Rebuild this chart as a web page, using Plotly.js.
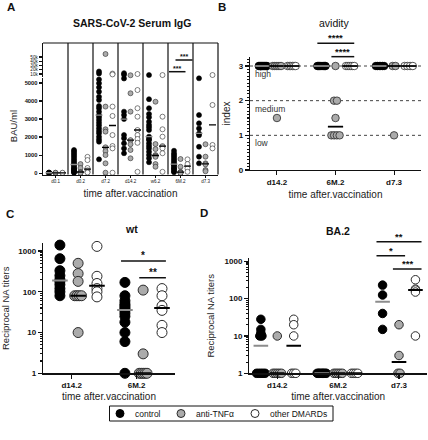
<!DOCTYPE html>
<html><head><meta charset="utf-8">
<script src="https://cdn.plot.ly/plotly-3.0.1.min.js"></script>
<style>html,body{margin:0;padding:0;background:#fff}#chart{width:428px;height:440px}</style>
</head><body><div id="chart"></div>
<script>
// ================= DATA =================
const groupNames = ['control', 'anti-TNFα', 'other DMARDs'];

// Panel A: SARS-CoV-2 serum IgG (BAU/ml)
const A_times = ['d0.1', 'd0.2', 'd7.2', 'd14.2', 'w6.2', '6M.2', 'd7.3'];
const A_control = [
  [10, 20, 30, 15],
  [1280, 1200, 1100, 1000, 900, 800, 700, 600, 500, 450, 400, 300, 250, 200, 150, 100, 50, 20],
  [16000, 11000, 5200, 4990, 4760, 4520, 4240, 4060, 3720, 3600, 3410, 3220, 3100, 2950, 2800, 2650, 2490, 2340, 2210, 2020, 1870, 1740, 760],
  [12000, 8000, 5250, 3410, 3220, 3000, 2110, 1930, 1650, 1370, 1100],
  [7500, 4100, 3600, 3280, 3100, 2850, 2670, 2540, 2390, 2020, 1890, 1830, 1650, 1500, 1370, 1180, 1000, 820, 600],
  [1240, 1100, 1000, 900, 800, 700, 600, 500, 450, 400, 300, 250, 200, 100, 50],
  [5260, 3220, 2760, 2480, 2200, 2100, 1460, 910, 540]
];
const A_antiTNF = [
  [10, 20],
  [500, 280, 60, 20, 10],
  [57000, 3690, 2430, 2300, 1430, 1220, 1000, 540, 20],
  [7000, 4430, 3410, 1830, 1600, 1280, 820],
  [3960, 1610, 1330, 1000, 950, 900, 500, 350],
  [780, 350, 70, 40, 10, 0],
  [1600, 910, 540, 480, 170, 100]
];
const A_other = [
  [10, 15],
  [900, 720, 280, 150, 60, 30],
  [11000, 9000, 3690, 3170, 2110, 1500, 1370, 20],
  [10000, 4610, 3600, 3130, 2390, 2110, 1890, 1680, 70],
  [7500, 3130, 2430, 2020, 1500, 1450, 1370, 1100, 70],
  [760, 500, 260, 70],
  [7600, 3780, 1560, 1370]
];
const A_lowTicks = [0, 1000, 2000, 3000, 4000, 5000];
const A_highTicks = [10000, 20000, 30000, 40000, 50000];
const A_sig = [{t: 5, a: 0, b: 1, label: '***'}, {t: 5, a: 1, b: 2, label: '***'}];

// Panel B: avidity index
const B_times = ['d14.2', '6M.2', 'd7.3'];
const B_control = [[3, 3, 3, 3, 3, 3, 3, 3, 3, 3], [3, 3, 3, 3, 3, 3, 3, 3], [3, 3, 3, 3, 3, 3]];
const B_antiTNF = [[3, 3, 3, 3, 3, 1.5], [3, 2, 2, 1.5, 1, 1, 1, 1], [3, 3, 1]];
const B_other = [[3, 3, 3, 3, 3, 3], [3, 3, 3, 3, 3], [3, 3, 3, 3]];
const B_levels = [3, 2, 1];
const B_levelNames = ['high', 'medium', 'low'];
const B_ticks = [0, 1, 2, 3];
const B_sig = [{t: 1, a: 0, b: 2, label: '****'}, {t: 1, a: 1, b: 2, label: '****'}];

// Panel C: wt reciprocal NA titers
const C_times = ['d14.2', '6M.2'];
const C_control = [[1400, 650, 330, 250, 200, 180, 150, 120, 100, 80], [170, 80, 60, 50, 45, 40, 36, 30, 25, 18, 10, 6, 1]];
const C_antiTNF = [[500, 280, 180, 80, 80, 80, 80, 10], [110, 3, 1, 1, 1, 1, 1]];
const C_other = [[1300, 240, 160, 120, 100, 75], [120, 80, 45, 35, 15, 10]];
const C_sig = [{t: 1, a: 0, b: 2, label: '*'}, {t: 1, a: 1, b: 2, label: '**'}];

// Panel D: BA.2 reciprocal NA titers
const D_times = ['d14.2', '6M.2', 'd7.3'];
const D_control = [[28, 15, 12, 10, 10, 1, 1, 1, 1, 1], [1, 1, 1, 1, 1, 1, 1, 1], [230, 125, 40, 15]];
const D_antiTNF = [[10, 1, 1, 1, 1, 1], [1, 1, 1, 1, 1], [20, 3, 1, 1]];
const D_other = [[28, 20, 10, 1, 1, 1], [1, 1, 1, 1], [320, 180, 170, 150, 10]];
const D_sig = [{t: 2, a: 0, b: 2, label: '**'}, {t: 2, a: 0, b: 1, label: '*'}, {t: 2, a: 1, b: 2, label: '***'}];

const logTicks = [1, 10, 100, 1000];

// ================= HELPERS =================
const F = 'Liberation Sans, Arial, sans-serif';
const W = 428, H = 440;
const PX = v => v / W, PY = v => 1 - v / H;
const FILL = ['#000000', '#ababab', '#ffffff'];
const EDGE = ['#000000', '#2a2a2a', '#2a2a2a'];
const MED = ['#8c8c8c', '#000000', '#000000'];

function median(a) {
  const s = [...a].sort((p, q) => p - q), n = s.length;
  return n % 2 ? s[(n - 1) / 2] : (s[n / 2 - 1] + s[n / 2]) / 2;
}
function dodge(vals, step, spread) {
  const counts = {}, seen = {};
  vals.forEach(v => counts[v] = (counts[v] || 0) + 1);
  return vals.map(v => {
    const n = counts[v];
    const k = seen[v] = (seen[v] === undefined ? 0 : seen[v] + 1);
    if (n === 1) return 0;
    const s = Math.min(step, spread / (n - 1));
    return (k - (n - 1) / 2) * s;
  });
}

const traces = [];
function panel(o) {
  o.sets.forEach((set, g) => {
    const lo = {x: [], y: []}, hi = {x: [], y: []};
    const mlo = {x: [], y: []}, mhi = {x: [], y: []};
    set.forEach((vals, t) => {
      const d = dodge(vals, o.step, o.spread);
      vals.forEach((v, i) => {
        const b = (o.split && v > o.split) ? hi : lo;
        b.x.push(t + o.offs[g] + d[i]); b.y.push(v);
      });
      const m = median(vals);
      const mb = (o.split && m > o.split) ? mhi : mlo;
      const c = t + o.offs[g];
      mb.x.push(c - o.hw, c + o.hw, null); mb.y.push(m, m, null);
    });
    const mk = {size: o.size, color: FILL[g], line: {color: EDGE[g], width: o.lw}};
    [[lo, o.ya], [hi, o.ya2]].forEach(([b, ya]) => {
      if (!b.x.length) return;
      traces.push({type: 'scatter', mode: 'markers', x: b.x, y: b.y, xaxis: o.xa, yaxis: ya,
        marker: mk, cliponaxis: false, hoverinfo: 'y', name: groupNames[g], showlegend: false});
    });
    [[mlo, o.ya], [mhi, o.ya2]].forEach(([b, ya]) => {
      if (!b.x.length) return;
      traces.push({type: 'scatter', mode: 'lines', x: b.x, y: b.y, xaxis: o.xa, yaxis: ya,
        line: {color: MED[g], width: o.mlw}, hoverinfo: 'skip', showlegend: false});
    });
  });
}

panel({sets: [A_control, A_antiTNF, A_other], xa: 'x', ya: 'y', ya2: 'y2', split: 5300,
  offs: [-0.26, 0, 0.28], size: 5, lw: 0.6, step: 0.06, spread: 0.12, hw: 0.14, mlw: 1.3});
panel({sets: [B_control, B_antiTNF, B_other], xa: 'x2', ya: 'y3',
  offs: [-0.24, 0, 0.25], size: 7.5, lw: 0.8, step: 0.05, spread: 0.14, hw: 0.13, mlw: 1.8});
panel({sets: [C_control, C_antiTNF, C_other], xa: 'x3', ya: 'y4',
  offs: [-0.18, 0.1, 0.39], size: 10, lw: 1, step: 0.035, spread: 0.12, hw: 0.12, mlw: 2});
panel({sets: [D_control, D_antiTNF, D_other], xa: 'x4', ya: 'y5',
  offs: [-0.27, 0, 0.27], size: 8.5, lw: 1, step: 0.035, spread: 0.15, hw: 0.12, mlw: 2});

// ================= LAYOUT =================
const tf = (s, bold) => ({family: F, size: s, color: '#111', weight: bold ? 'bold' : 'normal'});
const base = () => ({showgrid: false, zeroline: false, showline: true, linecolor: '#111', linewidth: 1.3,
  ticks: 'outside', tickcolor: '#111', tickwidth: 1.1, automargin: false, fixedrange: true});
const titleFont = s => ({family: F, size: s, color: '#222'});
const minorLog = [];
[1, 10, 100].forEach(p => { for (let k = 2; k <= 9; k++) minorLog.push(k * p); });

const layout = {
  width: W, height: H, margin: {l: 0, r: 0, t: 0, b: 0},
  paper_bgcolor: '#ffffff', plot_bgcolor: 'rgba(0,0,0,0)',
  font: {family: F, color: '#111'},
  showlegend: false,
  // Panel A
  xaxis: Object.assign(base(), {domain: [PX(43), PX(218)], range: [-0.5, 6.5], anchor: 'y',
    tickmode: 'array', tickvals: A_times.map((_, i) => i), ticktext: A_times, ticklen: 2,
    tickfont: tf(4.5, false), title: {text: 'time after.vaccination', font: titleFont(10), standoff: 6}}),
  yaxis: Object.assign(base(), {domain: [PY(174.5), PY(77.6)], range: [-80, 5300], anchor: 'x',
    tickmode: 'array', tickvals: A_lowTicks, ticklen: 3, tickfont: tf(5.8, true),
    title: {text: 'BAU/ml', font: titleFont(9.5), standoff: 5}}),
  yaxis2: Object.assign(base(), {domain: [PY(77), PY(43)], range: [2941, 82941], anchor: 'x',
    tickmode: 'array', tickvals: A_highTicks, ticklen: 3, tickfont: tf(4.6, false)}),
  // Panel B
  xaxis2: Object.assign(base(), {domain: [PX(250), PX(421)], range: [-0.46, 2.46], anchor: 'y3',
    tickmode: 'array', tickvals: B_times.map((_, i) => i), ticktext: B_times, ticklen: 4,
    tickfont: tf(8, true), title: {text: 'time after.vaccination', font: titleFont(10), standoff: 5}}),
  yaxis3: Object.assign(base(), {domain: [PY(170), PY(57)], range: [0, 3.26], anchor: 'x2',
    tickmode: 'array', tickvals: B_ticks, ticklen: 4, tickfont: tf(8, true),
    minor: {ticks: 'outside', dtick: 0.1, ticklen: 2, tickcolor: '#111'},
    title: {text: 'index', font: titleFont(10), standoff: 6}}),
  // Panel C
  xaxis3: Object.assign(base(), {domain: [PX(43), PX(175)], range: [-0.44, 1.59], anchor: 'y4',
    tickmode: 'array', tickvals: C_times.map((_, i) => i), ticktext: C_times, ticklen: 4,
    tickfont: tf(8, true), title: {text: 'time after.vaccination', font: titleFont(10), standoff: 3}}),
  yaxis4: Object.assign(base(), {type: 'log', domain: [PY(373.3), PY(243.3)], range: [0, 3.19], anchor: 'x3',
    tickmode: 'array', tickvals: logTicks, ticktext: logTicks.map(String), ticklen: 4, tickfont: tf(8, true),
    minor: {ticks: 'outside', tickmode: 'array', tickvals: minorLog, ticklen: 2, tickcolor: '#111'},
    title: {text: 'Reciprocal NA titers', font: titleFont(9.5), standoff: 8}}),
  // Panel D
  xaxis4: Object.assign(base(), {domain: [PX(249.3), PX(427)], range: [-0.46, 2.46], anchor: 'y5',
    tickmode: 'array', tickvals: D_times.map((_, i) => i), ticktext: D_times, ticklen: 4,
    tickfont: tf(8, true), title: {text: 'time after.vaccination', font: titleFont(10), standoff: 3}}),
  yaxis5: Object.assign(base(), {type: 'log', domain: [PY(373.3), PY(258.3)], range: [0, 3.08], anchor: 'x4',
    tickmode: 'array', tickvals: logTicks, ticktext: logTicks.map(String), ticklen: 4, tickfont: tf(8, true),
    minor: {ticks: 'outside', tickmode: 'array', tickvals: minorLog, ticklen: 2, tickcolor: '#111'},
    title: {text: 'Reciprocal NA titers', font: titleFont(9.5), standoff: 8}}),
  shapes: [], annotations: []
};

// Panel A frame: column separators, right border, top border
for (let i = 0; i < A_times.length - 1; i++) {
  layout.shapes.push({type: 'line', xref: 'x', yref: 'paper', x0: i + 0.5, x1: i + 0.5,
    y0: PY(174.5), y1: PY(43), line: {color: '#111', width: 1.2}});
}
layout.shapes.push({type: 'line', xref: 'x domain', yref: 'paper', x0: 1, x1: 1, y0: PY(174.5), y1: PY(43), line: {color: '#111', width: 1.2}});
layout.shapes.push({type: 'line', xref: 'x domain', yref: 'paper', x0: 0, x1: 1, y0: PY(43), y1: PY(43), line: {color: '#111', width: 1.2}});

// Panel B reference levels
B_levels.forEach((v, i) => {
  layout.shapes.push({type: 'line', xref: 'x2 domain', yref: 'y3', x0: 0, x1: 1, y0: v, y1: v,
    line: {color: '#444', width: 1, dash: 'dot'}, layer: 'below'});
  layout.annotations.push({xref: 'x2 domain', yref: 'y3', x: 0.02, y: v, xanchor: 'left', yanchor: 'top',
    yshift: -1, text: B_levelNames[i], showarrow: false, font: {family: F, size: 8.5, color: '#333'}});
});

// Significance brackets
function sig(list, xa, yaDom, offs, pad, heights, fs) {
  list.forEach((s, i) => {
    const x0 = s.t + offs[s.a] - pad, x1 = s.t + offs[s.b] + pad;
    layout.shapes.push({type: 'line', xref: xa, yref: yaDom, x0: x0, x1: x1, y0: heights[i], y1: heights[i],
      line: {color: '#111', width: 1.5}});
    layout.annotations.push({xref: xa, yref: yaDom, x: (x0 + x1) / 2, y: heights[i], xanchor: 'center',
      yanchor: 'bottom', yshift: -2, text: s.label, showarrow: false, font: {family: F, size: fs, color: '#111', weight: 'bold'}});
  });
}
sig(A_sig, 'x', 'y2 domain', [-0.26, 0, 0.28], 0.2, [0.156, 0.5], 7);
sig(B_sig, 'x2', 'y3 domain', [-0.24, 0, 0.25], 0.07, [1.121, 1.003], 9.5);
sig(C_sig, 'x3', 'y4 domain', [-0.18, 0.1, 0.39], 0.06, [0.864, 0.735], 10);
sig(D_sig, 'x4', 'y5 domain', [-0.27, 0, 0.27], 0.1, [1.144, 1.023, 0.907], 9.5);

// Panel letters and titles
const lab = (x, y, t, s, bold) => layout.annotations.push({xref: 'paper', yref: 'paper', x: PX(x), y: PY(y),
  xanchor: 'center', yanchor: 'middle', text: t, showarrow: false, font: {family: F, size: s, color: '#111', weight: bold ? 'bold' : 'normal'}});
lab(11, 7, 'A', 11.5, true); lab(222, 7, 'B', 11.5, true); lab(9.5, 213.5, 'C', 11.5, true); lab(203.5, 213, 'D', 11.5, true);
lab(132, 23, 'SARS-CoV-2 Serum IgG', 10.5, true);
lab(334.5, 22.5, 'avidity', 10.5, false);
lab(131.5, 229, 'wt', 10.5, true);
lab(337.5, 231, 'BA.2', 10.5, true);

// Shared legend (boxed key below panels C and D)
const legendBox = {x0: 109.5, x1: 333, y0: 406, y1: 421};
const legendKeyX = [120, 181, 255];
layout.shapes.push({type: 'rect', xref: 'paper', yref: 'paper', x0: PX(legendBox.x0), x1: PX(legendBox.x1),
  y0: PY(legendBox.y1), y1: PY(legendBox.y0), line: {color: '#111', width: 1}, fillcolor: '#fff'});
const cy = (legendBox.y0 + legendBox.y1) / 2;
groupNames.forEach((n, g) => {
  const cx = legendKeyX[g];
  layout.shapes.push({type: 'circle', xref: 'paper', yref: 'paper', x0: PX(cx - 4), x1: PX(cx + 4),
    y0: PY(cy + 4), y1: PY(cy - 4), fillcolor: FILL[g], line: {color: EDGE[g], width: 1}});
  layout.annotations.push({xref: 'paper', yref: 'paper', x: PX(cx + 12.5), y: PY(cy), xanchor: 'left', yanchor: 'middle',
    text: n, showarrow: false, font: {family: F, size: 8.5, color: '#111'}});
});

Plotly.newPlot('chart', traces, layout, {displayModeBar: false, staticPlot: true});
</script></body></html>
